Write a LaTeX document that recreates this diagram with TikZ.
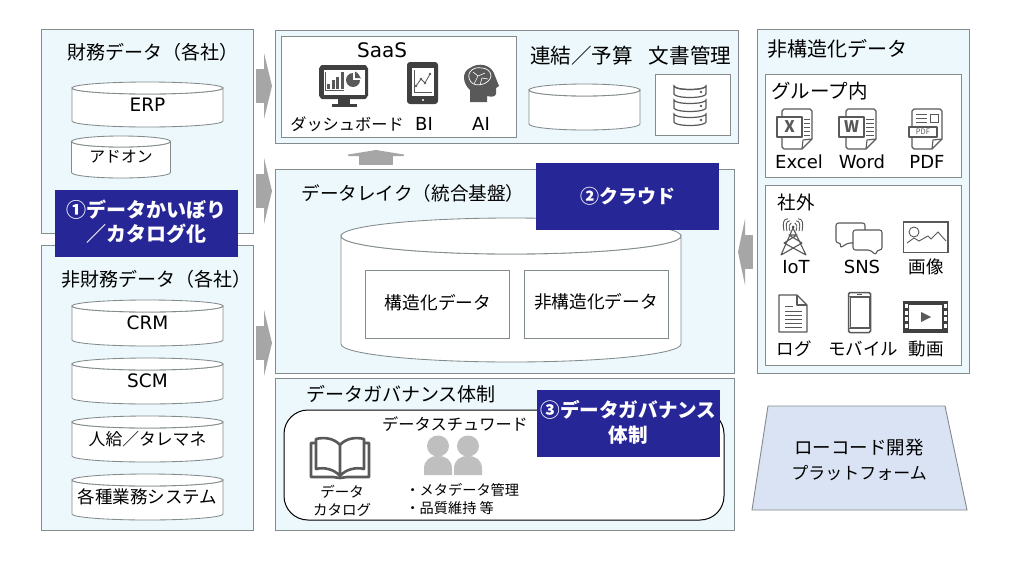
\documentclass[tikz,border=0pt]{standalone}
\usepackage{fontspec}
\setmainfont{Noto Sans CJK JP}
\newfontfamily\latinface{DejaVu Sans}
\usetikzlibrary{arrows.meta}
\definecolor{panelfill}{HTML}{ECF8FB}
\definecolor{edgegray}{HTML}{848B8D}
\definecolor{navy}{HTML}{262696}
\definecolor{arrowgray}{HTML}{A6A6A6}
\definecolor{icondark}{HTML}{595959}
\definecolor{iconmid}{HTML}{404040}
\definecolor{peoplegray}{HTML}{BFBFBF}
\definecolor{trapfill}{HTML}{DAE3F3}
\newcommand{\fs}[1]{\fontsize{#1}{#1}\selectfont}
\newcommand{\fsl}[2]{\fontsize{#1}{#2}\selectfont}
\newcommand{\cylbody}[7]{%
  \draw[cylline] ({#2-#5},{#3+#6}) -- ({#2-#5},{#4-#6}) arc[start angle=180,end angle=0,x radius=#5,y radius=#6] -- ({#2+#5},{#3+#6}) arc[start angle=0,end angle=180,x radius=#5,y radius=#6] -- cycle;
  \draw[cylline] (#2,{#3+#6}) ellipse[x radius=#5,y radius=#6];
  \node[lbl,font=#7] (#1) at (#2,{(#3+#4)/2}) {\cyltext};}
\newcommand{\docshape}[2]{%
  \draw[iconline] ({#1+2},#2) -- ({#1+28},#2) to[out=0,in=-90] ({#1+30},{#2+2}) -- ({#1+30},{#2+30}) -- ({#1+20},{#2+40}) -- ({#1+2},{#2+40}) to[out=180,in=90] (#1,{#2+38}) -- (#1,{#2+2}) to[out=-90,in=180] cycle;
  \draw[iconline] ({#1+30},{#2+30}) -- ({#1+21},{#2+31}) -- ({#1+20},{#2+40});}
\tikzset{
  x=1pt,y=-1pt,
  panel/.style={draw=edgegray,fill=panelfill,line width=.95pt,rectangle,inner sep=0,outer sep=0,anchor=north west},
  whitebox/.style={draw=edgegray,fill=white,line width=.95pt,rectangle,inner sep=0,outer sep=0,anchor=north west},
  tag/.style={fill=navy,text=white,align=center,inner sep=0,outer sep=0,anchor=north west,minimum width=183pt,minimum height=67pt},
  tagtext/.style={text=white,align=center,inner sep=0,outer sep=0,anchor=center},
  lbl/.style={inner sep=0,outer sep=0,text=black,anchor=center},
  cylline/.style={draw=edgegray,fill=white,line width=.85pt},
  blockarrow/.style={draw=arrowgray,line width=34pt},
  iconline/.style={draw=icondark,line width=1.1pt,line join=round},
  thinline/.style={draw=icondark,line width=.8pt},
}
\begin{document}
\begin{tikzpicture}
\useasboundingbox (0,0) rectangle (1030,560);
\fill[white] (0,0) rectangle (1030,560);
% main panels
\node[panel,minimum width=212pt,minimum height=204pt] (fin) at (41,29) {};
\node[panel,minimum width=212pt,minimum height=285pt] (nonfin) at (41,245) {};
\node[panel,minimum width=463pt,minimum height=113pt] (apps) at (275,30) {};
\node[panel,minimum width=459pt,minimum height=204pt] (lake) at (275,169) {};
\node[panel,minimum width=459pt,minimum height=152pt] (gov) at (275,378) {};
\node[panel,minimum width=212pt,minimum height=344pt] (unstr) at (757,29) {};
% block arrows
\coordinate (a1s) at (256,86); \coordinate (a1e) at (272,86);
\coordinate (a2s) at (256,191); \coordinate (a2e) at (272,191);
\coordinate (a3s) at (256,343); \coordinate (a3e) at (272,343);
\coordinate (a4s) at (753,252); \coordinate (a4e) at (738,252);
\coordinate (a5s) at (376,165); \coordinate (a5e) at (376,150);
\foreach \s/\e in {a1s/a1e,a2s/a2e,a3s/a3e}
  \draw[blockarrow,-{Triangle[length=8pt,width=66pt,fill=arrowgray]}] (\s) -- (\e);
\draw[blockarrow,-{Triangle[length=7pt,width=66pt,fill=arrowgray]}] (a4s) -- (a4e);
\draw[blockarrow,-{Triangle[length=6pt,width=74pt,fill=arrowgray]}] (a5s) -- (a5e);
% left: financial
\node[lbl,font=\fs{19}] (t1) at (153,52) {財務データ（各社）};
\def\cyltext{ERP}\cylbody{erp}{147.5}{82}{127}{75.5}{6}{\fs{18.5}\latinface}
\def\cyltext{アドオン}\cylbody{addon}{121}{136}{178}{49.5}{5.5}{\fs{15.8}}
% left: non financial
\node[lbl,font=\fs{19}] (t2) at (156,279) {非財務データ（各社）};
\def\cyltext{CRM}\cylbody{crm}{147.5}{300}{346}{75.5}{6}{\fs{18.5}\latinface}
\def\cyltext{SCM}\cylbody{scm}{147.5}{358}{404}{75.5}{6}{\fs{18.5}\latinface}
\def\cyltext{人給／タレマネ}\cylbody{hr}{147.5}{416}{462}{75.5}{6}{\fs{16.8}}
\def\cyltext{各種業務システム}\cylbody{biz}{147.5}{474}{520}{75.5}{6}{\fs{17.5}}
\node[tag] (tag1) at (55,190) {};
\node[tagtext,font=\fsl{20}{24}\bfseries] (tag1t) at (146.5,221.5) {①データかいぼり\\／カタログ化};
% top centre
\node[whitebox,minimum width=235pt,minimum height=101pt] (saas) at (281,36) {};
\node[lbl,font=\fs{20}\latinface] (saast) at (382,50) {SaaS};
\node[lbl,font=\fs{16.2}] (dash) at (347,124) {ダッシュボード};
\node[lbl,font=\fs{18}\latinface] (bi) at (424,124) {BI};
\node[lbl,font=\fs{18}\latinface] (ai) at (481,124) {AI};
\node[lbl,font=\fs{20.6}] (rk) at (581.5,56) {連結／予算};
\node[lbl,font=\fs{20.6}] (doc) at (690,56) {文書管理};
\def\cyltext{}\cylbody{budget}{584.5}{84}{130}{55.5}{6}{\fs{10}}
\node[whitebox,minimum width=75pt,minimum height=61pt] (docbox) at (655,74) {};
% monitor icon
\fill[iconmid] (319,68) to[out=-90,in=180] (322,65) -- (365,65) to[out=0,in=-90] (368,68) -- (368,96) to[out=90,in=0] (365,99) -- (322,99) to[out=180,in=90] (319,96) -- cycle;
\fill[iconmid] (338,98) rectangle (350,104);
\fill[iconmid] (332,103.5) rectangle (357,107);
\fill[white] (323.5,70) rectangle (364.5,94.5);
\draw[icondark,line width=1pt] (325,72) -- (325,90) -- (344,90);
\fill[icondark] (327,84) rectangle (330,89);
\fill[icondark] (331.5,80) rectangle (334.5,89);
\fill[icondark] (336,77) rectangle (339,89);
\fill[icondark] (340.5,72) rectangle (343.5,89);
\fill[icondark] (353,80) circle[radius=7];
\fill[white] (353,80) -- (353,72.5) -- (361,72.5) -- (361,80) -- cycle;
\fill[icondark] (355,78) -- (355,71.5) to[out=0,in=-90] (361.5,78) -- cycle;
% tablet icon
\fill[iconmid,rounded corners=3pt] (407,62) rectangle (438,104);
\fill[white] (411.5,68) rectangle (433.5,96);
\fill[white] (423,100) circle[radius=1.2];
\draw[icondark,line width=.8pt] (414,70) -- (414,92) -- (432,92);
\draw[icondark,line width=.8pt] (416,86) -- (421,79) -- (425,83) -- (430,74);
\foreach \p in {(416,86),(421,79),(425,83),(430,74)} \fill[icondark] \p circle[radius=1.3];
% head icon
\fill[icondark] (470,102) -- (470,90) .. controls (463,84) and (461,72) .. (470,68) .. controls (478,62) and (492,64) .. (495,76) -- (499,86) -- (496,88) -- (496,94) .. controls (495,97) and (491,97) .. (487,96) -- (487,102) -- cycle;
\draw[white,line width=.7pt] (482,68) .. controls (472,66) and (465,74) .. (471,82) .. controls (476,88) and (490,84) .. (491,76) .. controls (491,71) and (486,68) .. (482,68);
\draw[white,line width=.6pt] (474,84) -- (478,76) -- (473,72) (478,76) -- (485,73) (480,85) -- (482,78) -- (488,79);
% database icon
\foreach \yy in {83,97,111}{
  \draw[draw=icondark,line width=1.2pt,fill=white] (674,{\yy+3}) -- (674,{\yy+11}) arc[start angle=180,end angle=0,x radius=16,y radius=3.5] -- (706,{\yy+3}) arc[start angle=0,end angle=180,x radius=16,y radius=3.5] -- cycle;
  \fill[icondark] (701,{\yy+9}) circle[radius=1.3];}
\draw[icondark,line width=1.2pt] (674,86) arc[start angle=180,end angle=0,x radius=16,y radius=3.5];
% data lake
\node[lbl,font=\fs{18.6}] (laket) at (413,193) {データレイク（統合基盤）};
\def\cyltext{}\cylbody{bigcyl}{511}{218}{362}{170}{18}{\fs{10}}
\node[whitebox,minimum width=144pt,minimum height=68pt] (str) at (365,270) {};
\node[lbl,font=\fs{17.7}] (strt) at (438,303) {構造化データ};
\node[whitebox,minimum width=144pt,minimum height=68pt] (ustr) at (524,270) {};
\node[lbl,font=\fs{17.7}] (ustrt) at (596,302) {非構造化データ};
\node[tag,font=\fs{19}\bfseries] (tag2) at (536,163) {②クラウド};
% governance
\node[lbl,font=\fs{19}] (govt) at (401,394) {データガバナンス体制};
\draw[black,line width=1pt,fill=white,rounded corners=24pt] (284,410) rectangle (724,520);
\node[lbl,font=\fs{16.2}] (stew) at (455,424) {データスチュワード};
\node[tag] (tag3) at (537,390) {};
\node[tagtext,font=\fsl{19.6}{25}\bfseries] (tag3t) at (628.5,422) {③データガバナンス\\体制};
% book icon
\draw[icondark,line width=2.6pt,line join=round] (340,476) -- (340,445) .. controls (334,438) and (324,437) .. (316,439) -- (316,469) .. controls (324,467) and (334,469) .. (340,476) .. controls (346,469) and (356,467) .. (364,469) -- (364,439) .. controls (356,437) and (346,438) .. (340,445);
\draw[icondark,line width=2.6pt,line join=round] (316,443) -- (311,443) -- (311,477) -- (333,477) -- (340,478) -- (347,477) -- (369,477) -- (369,443) -- (364,443);
\node[lbl,font=\fsl{14.5}{18},align=center] (cat) at (342,501) {データ\\カタログ};
% people icon
\foreach \c in {438,468}{
  \fill[peoplegray] (\c,446) ellipse[x radius=11,y radius=10.5];
  \fill[peoplegray] ({\c-14},475) -- ({\c-14},469) .. controls ({\c-14},460) and ({\c-8},456) .. (\c,456) .. controls ({\c+8},456) and ({\c+14},460) .. ({\c+14},469) -- ({\c+14},475) -- cycle;}
\node[lbl,font=\fs{14.2},anchor=west] (m1) at (405.5,490) {・メタデータ管理};
\node[lbl,font=\fs{14.2},anchor=west] (m2) at (405.5,508) {・品質維持 等};
% right panel
\node[lbl,font=\fs{20}] (ut) at (837.5,49) {非構造化データ};
\node[whitebox,minimum width=196pt,minimum height=103pt] (grp) at (765,74) {};
\node[whitebox,minimum width=196pt,minimum height=180pt] (ext) at (765,185) {};
\node[lbl,font=\fs{19.5}] (grpt) at (819.5,91) {グループ内};
\node[lbl,font=\fs{18}\latinface] (xl) at (799,162) {Excel};
\node[lbl,font=\fs{18}\latinface] (wd) at (862,162) {Word};
\node[lbl,font=\fs{18}\latinface] (pdf) at (927,162) {PDF};
\node[lbl,font=\fs{18.5}] (extt) at (796,202) {社外};
\node[lbl,font=\fs{18}\latinface] (iot) at (796,267) {IoT};
\node[lbl,font=\fs{18}\latinface] (sns) at (862,267) {SNS};
\node[lbl,font=\fs{17.5}] (img) at (926,267) {画像};
\node[lbl,font=\fs{17.5}] (log) at (794,349) {ログ};
\node[lbl,font=\fs{17.5}] (mob) at (863,349) {モバイル};
\node[lbl,font=\fs{17.5}] (mov) at (926,349) {動画};
% excel icon
\docshape{782}{109}
\foreach \yy in {119,123,127,131,135}{\draw[thinline] (804,\yy) -- (810,\yy);}
\draw[iconline,fill=white] (777,117) rectangle (802,137);
\node[lbl,font=\fs{16}\bfseries,text=icondark] (xg) at (789.5,127) {X};
% word icon
\docshape{846}{109}
\foreach \yy in {119,123,127,131,135}{\draw[thinline] (866,\yy) -- (874,\yy);}
\draw[iconline,fill=white] (839,117) rectangle (864,137);
\node[lbl,font=\fs{16}\bfseries,text=icondark] (wg) at (851.5,127) {W};
% pdf icon
\docshape{912}{109}
\foreach \yy in {114,118,122}{\draw[thinline] (916,\yy) -- (927,\yy);}
\draw[thinline] (930,114) rectangle (938,122);
\draw[iconline,fill=white] (909,127) rectangle (937,137);
\node[lbl,font=\fs{7.5},text=icondark] (pg) at (923,132) {PDF};
% tower icon
\draw[iconline] (793,228) -- (781,255) -- (802,243) -- (789,235) -- (797,235) -- (784,243) -- (806,255) -- (793,228);
\fill[iconmid] (793,227) circle[radius=1.5];
\foreach \r in {3,6,9}{
  \draw[icondark,line width=.9pt] ({793-\r},{231}) .. controls ({793-\r-1.5},{227-.4*\r}) and ({793-\r-1},{226-.8*\r}) .. ({793-\r*.55},{225-\r*.7});
  \draw[icondark,line width=.9pt] ({793+\r},{231}) .. controls ({793+\r+1.5},{227-.4*\r}) and ({793+\r+1},{226-.8*\r}) .. ({793+\r*.55},{225-\r*.7});}
% sns icon
\draw[iconline,fill=white,rounded corners=2.5pt] (836,223) -- (865,223) -- (865,243) -- (848,243) -- (840,248) -- (841,243) -- (836,243) -- cycle;
\draw[iconline,fill=white,rounded corners=2.5pt] (853,230) -- (882,230) -- (882,250) -- (877,250) -- (876,255) -- (870,250) -- (853,250) -- cycle;
% image icon
\draw[icondark,line width=1.3pt,fill=white] (903.5,222) rectangle (948,252.5);
\draw[icondark,line width=.9pt] (914,232) circle[radius=5];
\draw[icondark,line width=.9pt] (907,243) -- (914,238) -- (919,241) -- (928,236) -- (931,239) -- (938,232) -- (946,241);
% log icon
\draw[iconline] (779,295) -- (797,295) -- (807,305) -- (807,332) -- (779,332) -- cycle;
\draw[iconline] (797,295) -- (797,305) -- (807,305);
\foreach \yy in {306}{\draw[thinline] (785,\yy) -- (793,\yy);}
\foreach \yy in {311,315,319,323,327}{\draw[thinline] (785,\yy) -- (802,\yy);}
% mobile icon
\draw[draw=icondark,line width=1.5pt,fill=white,rounded corners=1.5pt] (848.5,292.5) rectangle (870.5,332.5);
\draw[thinline] (849,296) -- (870,296);
\draw[thinline] (849,328) -- (870,328);
\draw[thinline] (850,297) rectangle (869,327);
\draw[icondark,line width=1pt] (857,294) -- (862,294);
% movie icon
\fill[iconmid] (903,301) rectangle (948,333);
\fill[white] (909,305) rectangle (942,329);
\foreach \yy in {304,310.5,317,323.5}{
  \fill[white] (904.5,\yy) rectangle (907.5,{\yy+4});
  \fill[white] (943.5,\yy) rectangle (946.5,{\yy+4});}
\fill[icondark] (921,312) -- (931,317) -- (921,322) -- cycle;
% trapezoid
\draw[draw=edgegray,fill=trapfill,line width=.9pt] (768,406) -- (945,406) -- (967,510) -- (752,510) -- cycle;
\node[lbl,font=\fs{18.5}] (lowcode1) at (859,448) {ローコード開発};
\node[lbl,font=\fs{17}] (lowcode2) at (859,473) {プラットフォーム};
\end{tikzpicture}
\end{document}
